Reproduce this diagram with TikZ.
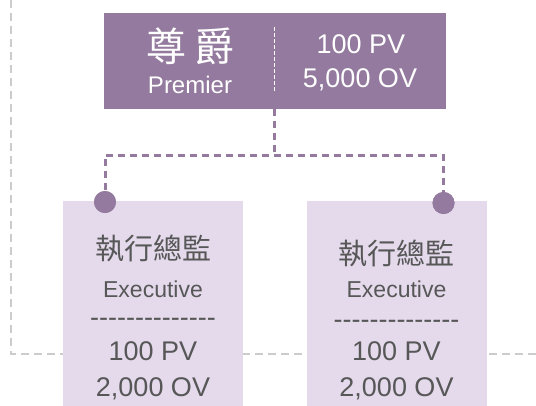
\documentclass[tikz,border=0pt]{standalone}
\usepackage{fontspec}
\usepackage{xcolor}
\usepackage{tikz}
\setmainfont{Liberation Sans}
\newfontfamily\cjk{Noto Sans CJK TC}
\definecolor{rankpurple}{HTML}{937A9E}
\definecolor{execlilac}{HTML}{E4DAEC}
\definecolor{execgrey}{HTML}{575757}
\definecolor{guidegrey}{HTML}{CCCCCC}
\tikzstyle{rankbox} = [fill=rankpurple, draw=none, rectangle,
minimum width=342pt, minimum height=96pt, inner sep=0pt]
\tikzstyle{execbox} = [fill=execlilac, draw=none, rectangle,
minimum width=180pt, minimum height=210pt, inner sep=0pt]
\tikzstyle{ranktext} = [text=white, inner sep=0pt]
\tikzstyle{exectext} = [text=execgrey, inner sep=0pt]
\tikzstyle{link} = [draw=rankpurple, line width=3pt, dash pattern=on 7pt off 5pt]
\tikzstyle{guide} = [draw=guidegrey, line width=2pt, dash pattern=on 8pt off 5pt]
\tikzstyle{knob} = [circle, fill=rankpurple, minimum size=22pt, inner sep=0pt]
\newcommand{\hyphenrule}{-{}-{}-{}-{}-{}-{}-{}-{}-{}-{}-{}-{}-{}-}

\begin{document}
\begin{tikzpicture}[x=1pt, y=-1pt]
        \useasboundingbox (0,0) rectangle (536,405);
        % grey guide behind everything
        \coordinate (gtop) at (11,0);
        \coordinate (gcorner) at (11,354);
        \coordinate (gend) at (540,354);
        \draw[guide] (gtop) -- (gcorner) -- (gend);

        % top rank
        \node [rankbox] (premier) at (275,61) {};
        \coordinate (splittop) at (274.5,27);
        \coordinate (splitbot) at (274.5,92);
        \draw[white, line width=1.5pt, dash pattern=on 4pt off 2pt] (splittop) -- (splitbot);
        \node [ranktext, font=\fontsize{40}{40}\cjk] (premierzh) at (190,46) {尊\hspace{8pt}爵};
        \node [ranktext, font=\fontsize{24}{24}\selectfont] (premieren) at (190,85) {Premier};
        \node [ranktext, font=\fontsize{27}{27}\selectfont] (premierpv) at (361,44) {100 PV};
        \node [ranktext, font=\fontsize{27}{27}\selectfont] (premierov) at (360,80) {5,000 OV};

        % two executive boxes
        \node [execbox] (execL) at (153,306) {};
        \node [execbox] (execR) at (396.5,306) {};

        \node [exectext, font=\fontsize{29}{29}\cjk] (execLzh) at (153,248) {執行總監};
        \node [exectext, font=\fontsize{23}{23}\selectfont] (execLen) at (153,289) {Executive};
        \node [exectext, font=\fontsize{27}{27}\selectfont] (execLrule) at (153,322) {\hyphenrule};
        \node [exectext, font=\fontsize{27}{27}\selectfont] (execLpv) at (153,351) {100 PV};
        \node [exectext, font=\fontsize{27}{27}\selectfont] (execLov) at (153,389) {2,000 OV};

        \node [exectext, font=\fontsize{29}{29}\cjk] (execRzh) at (396.5,253) {執行總監};
        \node [exectext, font=\fontsize{23}{23}\selectfont] (execRen) at (396.5,289) {Executive};
        \node [exectext, font=\fontsize{27}{27}\selectfont] (execRrule) at (396.5,324) {\hyphenrule};
        \node [exectext, font=\fontsize{27}{27}\selectfont] (execRpv) at (396.5,351) {100 PV};
        \node [exectext, font=\fontsize{27}{27}\selectfont] (execRov) at (396.5,389) {2,000 OV};

        % connectors
        \node [knob] (knobL) at (105,202) {};
        \node [knob] (knobR) at (443.5,203) {};
        \coordinate (fork) at (274.5,155);
        \draw[link] (premier.south -| fork) -- (fork);
        \draw[link] (knobL.center) |- (fork) -| (knobR.center);
        \node [knob] at (knobL) {};
        \node [knob] at (knobR) {};
    \end{tikzpicture}
\end{document}
